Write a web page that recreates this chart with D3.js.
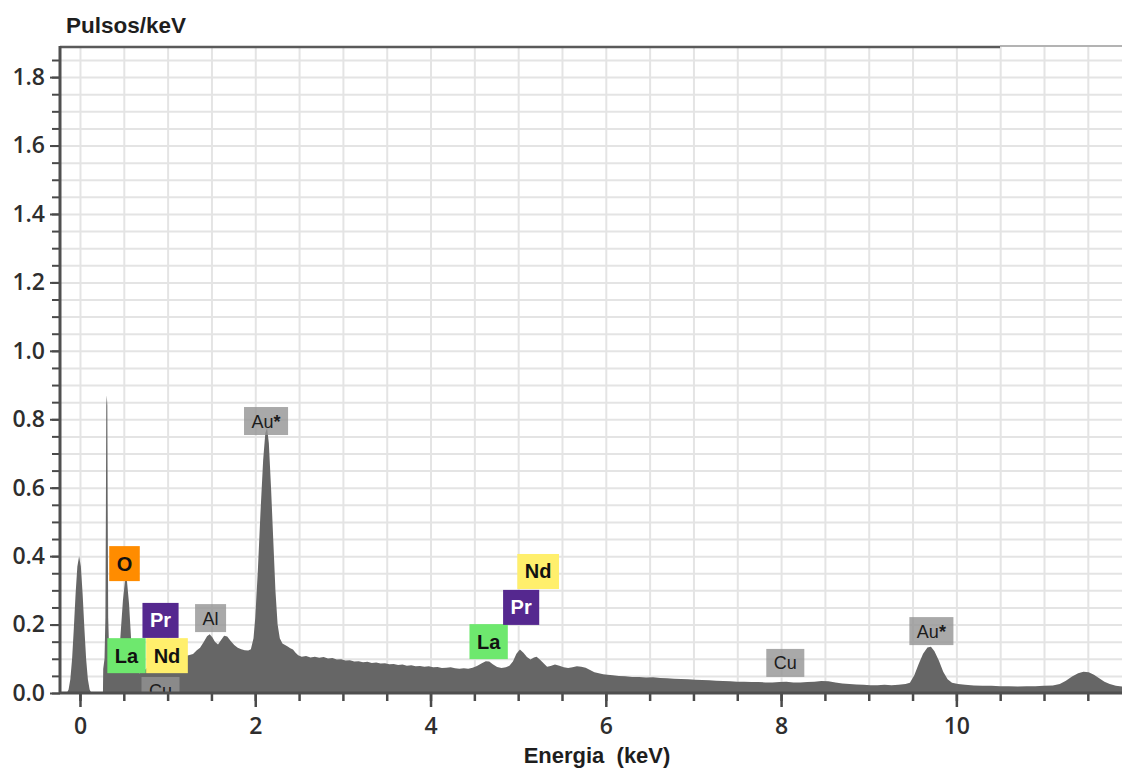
<!DOCTYPE html>
<html>
<head>
<meta charset="utf-8">
<script src="https://cdn.jsdelivr.net/npm/d3@7"></script>
<style>
  body { margin: 0; background: #fff; }
  svg { display: block; }
</style>
</head>
<body>
<svg id="chart" width="1122" height="769"></svg>
<script>
// EDS spectrum: energy (keV) vs pulses/keV
const energyDomain = [-0.228, 11.89];
const pulseDomain = [0, 1.888];
const xTickLabels = [0, 2, 4, 6, 8, 10];
const yTickLabels = [0, 0.2, 0.4, 0.6, 0.8, 1.0, 1.2, 1.4, 1.6, 1.8];

// [energy keV, pulses/keV]
const spectrum = [
  [-0.23, 0], [-0.15, 0], [-0.13, 0.01], [-0.11, 0.04], [-0.09, 0.10], [-0.07, 0.19],
  [-0.05, 0.29], [-0.03, 0.37], [-0.01, 0.40], [0.01, 0.37], [0.03, 0.29], [0.05, 0.19],
  [0.07, 0.10], [0.09, 0.04], [0.11, 0.01], [0.13, 0],
  [0.262, 0], [0.265, 0.07], [0.28, 0.10], [0.290, 0.22], [0.296, 0.55], [0.300, 0.84],
  [0.306, 0.87], [0.312, 0.84], [0.316, 0.55], [0.322, 0.22], [0.335, 0.10], [0.36, 0.075],
  [0.40, 0.07], [0.43, 0.09],
  [0.46, 0.16], [0.49, 0.27], [0.515, 0.33], [0.535, 0.33], [0.56, 0.26], [0.585, 0.15],
  [0.61, 0.085], [0.64, 0.062], [0.68, 0.058], [0.72, 0.062], [0.76, 0.072], [0.80, 0.085],
  [0.84, 0.094], [0.88, 0.098], [0.92, 0.101], [0.96, 0.100], [1.00, 0.104], [1.04, 0.107],
  [1.08, 0.104], [1.12, 0.108], [1.16, 0.106], [1.20, 0.108], [1.24, 0.110], [1.29, 0.114],
  [1.33, 0.124], [1.37, 0.132], [1.41, 0.148], [1.45, 0.166], [1.48, 0.172], [1.51, 0.163],
  [1.54, 0.150], [1.575, 0.142], [1.61, 0.155], [1.645, 0.167], [1.68, 0.165], [1.72, 0.152],
  [1.76, 0.140], [1.80, 0.132], [1.84, 0.128], [1.88, 0.125], [1.92, 0.124], [1.95, 0.128],
  [1.98, 0.16], [2.00, 0.22], [2.03, 0.36], [2.06, 0.53], [2.09, 0.68], [2.115, 0.76],
  [2.135, 0.775], [2.155, 0.73], [2.18, 0.60], [2.205, 0.45], [2.23, 0.30], [2.255, 0.20],
  [2.28, 0.16], [2.31, 0.145], [2.34, 0.140], [2.37, 0.136], [2.40, 0.131], [2.43, 0.127],
  [2.46, 0.118], [2.49, 0.110], [2.53, 0.106], [2.58, 0.108], [2.63, 0.104], [2.68, 0.106],
  [2.73, 0.103], [2.78, 0.105], [2.83, 0.101], [2.88, 0.102], [2.93, 0.098], [2.98, 0.099],
  [3.03, 0.095], [3.08, 0.096], [3.13, 0.092], [3.18, 0.093], [3.23, 0.090], [3.28, 0.091],
  [3.33, 0.088], [3.38, 0.089], [3.43, 0.086], [3.48, 0.087], [3.53, 0.084], [3.58, 0.085],
  [3.63, 0.082], [3.68, 0.083], [3.73, 0.080], [3.78, 0.081], [3.83, 0.078], [3.88, 0.079],
  [3.93, 0.077], [3.98, 0.078], [4.03, 0.075], [4.08, 0.076], [4.13, 0.073], [4.18, 0.074],
  [4.23, 0.075], [4.28, 0.072], [4.33, 0.071], [4.38, 0.072], [4.43, 0.071], [4.48, 0.074],
  [4.53, 0.079], [4.58, 0.086], [4.63, 0.093], [4.67, 0.092], [4.71, 0.084], [4.76, 0.076],
  [4.81, 0.073], [4.86, 0.075], [4.90, 0.080], [4.94, 0.092], [4.98, 0.115], [5.02, 0.127],
  [5.06, 0.118], [5.10, 0.105], [5.14, 0.098], [5.18, 0.104], [5.21, 0.106], [5.25, 0.097],
  [5.29, 0.087], [5.33, 0.077], [5.37, 0.079], [5.42, 0.083], [5.47, 0.080], [5.52, 0.075],
  [5.57, 0.073], [5.62, 0.075], [5.67, 0.078], [5.72, 0.077], [5.77, 0.074], [5.82, 0.067],
  [5.87, 0.061], [5.92, 0.058], [5.97, 0.055], [6.02, 0.053], [6.08, 0.052], [6.15, 0.050],
  [6.22, 0.049], [6.30, 0.047], [6.38, 0.047], [6.46, 0.045], [6.54, 0.046], [6.62, 0.044],
  [6.70, 0.043], [6.78, 0.042], [6.86, 0.041], [6.94, 0.040], [7.02, 0.039], [7.10, 0.038],
  [7.18, 0.037], [7.26, 0.036], [7.34, 0.035], [7.42, 0.034], [7.50, 0.033], [7.58, 0.033],
  [7.66, 0.032], [7.74, 0.032], [7.82, 0.031], [7.90, 0.031], [7.98, 0.032], [8.06, 0.033],
  [8.14, 0.031], [8.22, 0.031], [8.30, 0.032], [8.38, 0.033], [8.46, 0.035], [8.54, 0.034],
  [8.62, 0.031], [8.70, 0.028], [8.78, 0.026], [8.86, 0.025], [8.94, 0.024], [9.02, 0.023],
  [9.10, 0.023], [9.18, 0.024], [9.26, 0.023], [9.34, 0.024], [9.42, 0.026], [9.47, 0.030],
  [9.52, 0.052], [9.57, 0.085], [9.62, 0.115], [9.67, 0.133], [9.71, 0.135], [9.75, 0.122],
  [9.80, 0.095], [9.85, 0.062], [9.90, 0.040], [9.95, 0.030], [10.02, 0.026], [10.10, 0.024],
  [10.20, 0.022], [10.30, 0.021], [10.40, 0.021], [10.50, 0.020], [10.60, 0.020], [10.70, 0.019],
  [10.80, 0.020], [10.90, 0.020], [11.00, 0.021], [11.10, 0.022], [11.18, 0.026], [11.25, 0.036],
  [11.32, 0.048], [11.39, 0.058], [11.45, 0.062], [11.51, 0.061], [11.57, 0.053], [11.63, 0.043],
  [11.69, 0.033], [11.75, 0.026], [11.82, 0.021], [11.90, 0.019]
];

// Element markers: box centre energy and the pulse level of the box bottom
const peakLabels = [
  { element: "O",   energy: 0.508, level: 0.327 },
  { element: "Pr",  energy: 0.919, level: 0.161 },
  { element: "La",  energy: 0.531, level: 0.058 },
  { element: "Nd",  energy: 0.993, level: 0.058 },
  { element: "Cu",  energy: 0.919, level: -0.035 },
  { element: "Al",  energy: 1.490, level: 0.178 },
  { element: "Au*", energy: 2.123, level: 0.754 },
  { element: "La",  energy: 4.663, level: 0.099 },
  { element: "Pr",  energy: 5.034, level: 0.199 },
  { element: "Nd",  energy: 5.228, level: 0.304 },
  { element: "Cu",  energy: 8.048, level: 0.047 },
  { element: "Au*", energy: 9.715, level: 0.140 }
];

const elementStyle = {
  "O":   { fill: "#ff8c00", text: "#111", strong: true },
  "Pr":  { fill: "#55288f", text: "#fff", strong: true },
  "La":  { fill: "#6ee86e", text: "#111", strong: true },
  "Nd":  { fill: "#ffef6c", text: "#111", strong: true },
  "Al":  { fill: "#949494", text: "#1c1c1c", strong: false },
  "Au*": { fill: "#949494", text: "#1c1c1c", strong: false },
  "Cu":  { fill: "#949494", text: "#1c1c1c", strong: false }
};

const W = 1122, H = 769;
const plot = { left: 60, right: 1122, top: 47, bottom: 693 };

const svg = d3.select("#chart");
const x = d3.scaleLinear().domain(energyDomain).range([plot.left, plot.right]);
const y = d3.scaleLinear().domain(pulseDomain).range([plot.bottom, plot.top]);

const xMinor = d3.range(0, 11.51, 0.5);
const yMinor = d3.range(0, 1.851, 0.05);

svg.append("defs").append("clipPath").attr("id", "plotClip")
  .append("rect")
  .attr("x", plot.left).attr("y", plot.top)
  .attr("width", plot.right - plot.left).attr("height", plot.bottom - plot.top);

// grid
const grid = svg.append("g").attr("class", "grid");
grid.append("g")
  .attr("transform", `translate(0,${plot.bottom})`)
  .call(d3.axisBottom(x).tickValues(xMinor).tickSize(-(plot.bottom - plot.top)).tickFormat(""))
  .call(g => g.select(".domain").remove())
  .call(g => g.selectAll("line").attr("stroke", "#e4e4e4").attr("stroke-width", 2));
grid.append("g")
  .attr("transform", `translate(${plot.left},0)`)
  .call(d3.axisLeft(y).tickValues(yMinor.filter(v => v > 0)).tickSize(-(plot.right - plot.left)).tickFormat(""))
  .call(g => g.select(".domain").remove())
  .call(g => g.selectAll("line").attr("stroke", "#e4e4e4").attr("stroke-width", 2));

// spectrum
const area = d3.area()
  .x(d => x(d[0]))
  .y0(y(0))
  .y1(d => y(d[1]))
  .curve(d3.curveLinear);

svg.append("path")
  .datum(spectrum)
  .attr("clip-path", "url(#plotClip)")
  .attr("fill", "#666666")
  .attr("d", area);

// element markers
const marks = svg.append("g").attr("clip-path", "url(#plotClip)");
peakLabels.forEach(p => {
  const st = elementStyle[p.element];
  const g = marks.append("g");
  const rect = g.append("rect").attr("fill", st.fill).attr("opacity", st.strong ? 1 : 0.8);
  const t = g.append("text")
    .attr("text-anchor", "middle")
    .attr("font-family", "Liberation Sans, Arial, sans-serif")
    .attr("font-weight", st.strong ? "bold" : "normal")
    .attr("font-size", st.strong ? 20 : 18)
    .attr("fill", st.text)
    .attr("x", x(p.energy));
  if (p.element === "Au*") {
    t.append("tspan").text("Au");
    t.append("tspan").attr("font-weight", "bold").text("*");
  } else {
    t.text(p.element);
  }
  const tw = t.node().getComputedTextLength();
  const bw = tw + 15;
  const bh = st.strong ? 35 : 28;
  const bottom = y(p.level);
  rect.attr("x", x(p.energy) - bw / 2).attr("y", bottom - bh)
      .attr("width", bw).attr("height", bh);
  t.attr("y", bottom - bh / 2 + (st.strong ? 7 : 6.5));
});

// axes
const axisColor = "#4a4a4a";
svg.append("line")
  .attr("x1", plot.left).attr("x2", 1000).attr("y1", plot.top).attr("y2", plot.top)
  .attr("stroke", "#5a5a5a").attr("stroke-width", 2.5);
svg.append("line")
  .attr("x1", 1000).attr("x2", plot.right).attr("y1", plot.top - 1).attr("y2", plot.top - 1)
  .attr("stroke", "#9a9a9a").attr("stroke-width", 1.5);

// y axis: minor ticks, then labelled ticks
svg.append("g")
  .attr("transform", `translate(${plot.left},0)`)
  .call(d3.axisLeft(y).tickValues(yMinor).tickSize(8).tickFormat(""))
  .call(g => g.select(".domain").remove())
  .call(g => g.selectAll("line").attr("stroke", axisColor).attr("stroke-width", 2));
svg.append("g")
  .attr("transform", `translate(${plot.left},0)`)
  .call(d3.axisLeft(y).tickValues(yTickLabels).tickSize(10).tickPadding(5).tickFormat(d3.format(".1f")))
  .call(g => g.select(".domain").remove())
  .call(g => g.selectAll("line").attr("stroke", axisColor).attr("stroke-width", 2))
  .call(g => g.selectAll("text")
    .attr("font-family", "Open Sans, sans-serif").attr("font-weight", 600)
    .attr("font-size", 23).attr("fill", "#2e2e2e"));

// x axis
svg.append("g")
  .attr("transform", `translate(0,${plot.bottom})`)
  .call(d3.axisBottom(x).tickValues(xMinor).tickSize(8).tickFormat(""))
  .call(g => g.select(".domain").remove())
  .call(g => g.selectAll("line").attr("stroke", axisColor).attr("stroke-width", 2.5));
svg.append("g")
  .attr("transform", `translate(0,${plot.bottom})`)
  .call(d3.axisBottom(x).tickValues(xTickLabels).tickSize(14).tickPadding(11).tickFormat(d3.format("d")))
  .call(g => g.select(".domain").remove())
  .call(g => g.selectAll("line").attr("stroke", axisColor).attr("stroke-width", 2.5))
  .call(g => g.selectAll("text")
    .attr("font-family", "Open Sans, sans-serif").attr("font-weight", 600)
    .attr("font-size", 23).attr("fill", "#2e2e2e"));

svg.append("line")
  .attr("x1", plot.left).attr("x2", plot.left).attr("y1", plot.top - 1).attr("y2", plot.bottom)
  .attr("stroke", "#4f4f4f").attr("stroke-width", 3);
svg.append("line")
  .attr("x1", plot.left).attr("x2", plot.right).attr("y1", plot.bottom).attr("y2", plot.bottom)
  .attr("stroke", "#4f4f4f").attr("stroke-width", 3);

// titles
svg.append("text")
  .attr("x", 66).attr("y", 33)
  .attr("font-family", "Liberation Sans, Arial, sans-serif").attr("font-weight", "bold")
  .attr("font-size", 22.5).attr("fill", "#1e1e1e")
  .text("Pulsos/keV");
svg.append("text")
  .attr("x", 597).attr("y", 763)
  .attr("text-anchor", "middle")
  .attr("font-family", "Liberation Sans, Arial, sans-serif").attr("font-weight", "bold")
  .attr("font-size", 22).attr("fill", "#1e1e1e")
  .style("white-space", "pre")
  .text("Energia  (keV)");
</script>
</body>
</html>
